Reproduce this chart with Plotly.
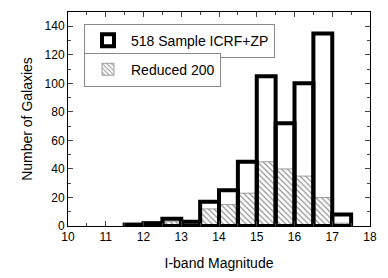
import plotly.graph_objects as go

bin_centers = [11.75, 12.25, 12.75, 13.25, 13.75, 14.25, 14.75, 15.25, 15.75, 16.25, 16.75, 17.25]
full_counts = [1, 2, 5, 3, 17, 25, 45, 105, 72, 100, 135, 8]
reduced_counts = [1, 2, 3, 2, 12, 15, 23, 45, 40, 35, 20, 2]
bin_width = 0.5

fig = go.Figure()
fig.add_trace(go.Bar(
    x=bin_centers, y=reduced_counts, width=bin_width,
    name="Reduced 200", legend="legend2", showlegend=True,
    marker=dict(color="white",
                line=dict(color="#888888", width=0.8),
                pattern=dict(shape="\\", fgcolor="#222222", bgcolor="white", size=4, solidity=0.3)),
))
fig.add_trace(go.Bar(
    x=bin_centers, y=full_counts, width=bin_width,
    name="518 Sample ICRF+ZP", legend="legend", showlegend=True,
    marker=dict(color="rgba(0,0,0,0)", line=dict(color="black", width=4)),
))

font = "Liberation Sans, Arial, sans-serif"
fig.update_layout(
    width=380, height=270,
    margin=dict(l=60, r=18, t=4, b=52, autoexpand=False),
    barmode="overlay",
    showlegend=True,
    plot_bgcolor="white", paper_bgcolor="white",
    font=dict(family=font, size=12, color="black"),
    legend=dict(x=0.053, y=0.945, xanchor="left", yanchor="top",
                bordercolor="#888888", borderwidth=1, bgcolor="white",
                font=dict(size=14), itemwidth=36),
    legend2=dict(x=0.053, y=0.81, xanchor="left", yanchor="top",
                 bordercolor="#888888", borderwidth=1, bgcolor="white",
                 font=dict(size=14), itemwidth=36),
    xaxis=dict(range=[10, 18], dtick=1, ticks="inside", ticklen=5, tickwidth=1,
               showline=True, linecolor="black", linewidth=1, mirror="ticks",
               showgrid=False, zeroline=False, automargin=False,
               minor=dict(dtick=0.5, ticks="inside", ticklen=3, tickwidth=1),
               title=dict(text="I-band Magnitude", font=dict(size=14), standoff=14)),
    yaxis=dict(range=[0, 150], dtick=20, ticks="inside", ticklen=5, tickwidth=1,
               showline=True, linecolor="black", linewidth=1, mirror="ticks",
               showgrid=False, zeroline=False, automargin=False,
               minor=dict(dtick=10, ticks="inside", ticklen=3, tickwidth=1),
               title=dict(text="Number of Galaxies", font=dict(size=14), standoff=8)),
)

fig.write_html("out.html")
